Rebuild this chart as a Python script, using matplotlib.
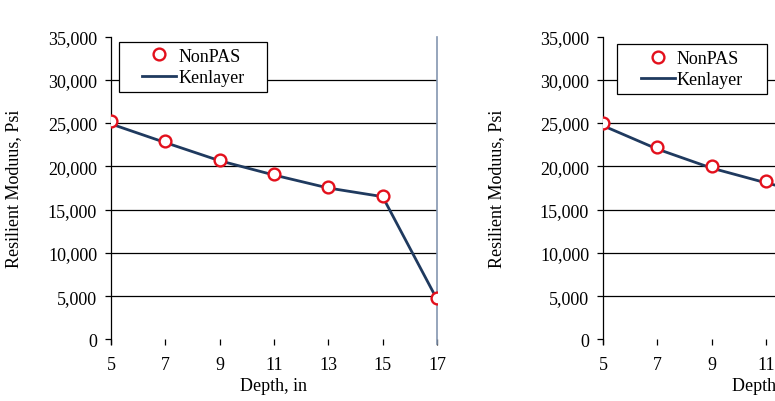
import matplotlib.pyplot as plt
from matplotlib.patches import Rectangle
from matplotlib.ticker import FuncFormatter

# Values (the right panel is cut off by the page edge).
depth_left = [5, 7, 9, 11, 13, 15, 17]
nonpas_left = [25250, 22900, 20750, 19100, 17600, 16550, 4750]
kenlayer_left = [24900, 22750, 20650, 19000, 17500, 16500, 4650]

depth_right = [5, 7, 9, 11, 13]
nonpas_right = [25000, 22200, 20000, 18300, 16700]
kenlayer_right = [24700, 22000, 19800, 18100, 16500]

x_ticks = [5, 7, 9, 11, 13, 15, 17]
y_ticks = [0, 5000, 10000, 15000, 20000, 25000, 30000, 35000]
grid_levels = [5000, 10000, 15000, 20000, 25000, 30000]

plt.rcParams['font.family'] = ['Liberation Serif', 'DejaVu Serif']
plt.rcParams['font.size'] = 13


# Draws one Excel-style panel into the given axes.
# legend_box is (x0, y0, x1, y1) in axes fractions, ylabel_x is where the y label sits.
def drawPanel(ax, depth, nonpas, kenlayer, legend_box, ylabel_x):

    # Horizontal gridlines, black like the original.
    for level in grid_levels:
        ax.axhline(level, color='black', linewidth=0.9, zorder=1)

    ax.plot(depth, kenlayer, color='#1f3a5f', linewidth=2.0, label='Kenlayer', zorder=2)
    ax.plot(depth, nonpas, linestyle='none', marker='o', markersize=8.5,
            markerfacecolor='white', markeredgecolor='#e3101c', markeredgewidth=1.7,
            label='NonPAS', zorder=3)

    ax.set_xlim(5, 17)
    ax.set_ylim(0, 35000)
    ax.set_xticks(x_ticks)
    ax.set_yticks(y_ticks)
    ax.yaxis.set_major_formatter(FuncFormatter(lambda v, p: f'{int(v):,}'))

    ax.spines['top'].set_visible(False)
    ax.spines['bottom'].set_visible(False)
    ax.spines['left'].set_color('black')
    ax.spines['left'].set_linewidth(0.9)
    ax.spines['left'].set_bounds(-500, 35000)
    ax.spines['right'].set_color('#8496b0')
    ax.spines['right'].set_linewidth(1.2)
    ax.spines['right'].set_bounds(-500, 35000)

    ax.tick_params(axis='y', direction='out', length=4, width=0.9, pad=6, colors='black')
    ax.tick_params(axis='x', direction='out', length=4, width=0.9, pad=8, colors='black')

    ax.set_xlabel('Depth, in', labelpad=3)
    ax.set_ylabel('Resilient Moduus, Psi')
    ax.yaxis.set_label_coords(ylabel_x, 0.5)

    # Legend box drawn by hand so it can be wider than the entries.
    x0, y0, x1, y1 = legend_box
    box = Rectangle((x0, y0), x1 - x0, y1 - y0, transform=ax.transAxes,
                    facecolor='white', edgecolor='black', linewidth=0.9, zorder=4)
    ax.add_patch(box)

    # Legend: marker first, then line.
    handles, labels = ax.get_legend_handles_labels()
    leg = ax.legend(handles[::-1], labels[::-1], loc='center',
                    bbox_to_anchor=((x0 + x1) / 2, (y0 + y1) / 2), frameon=False,
                    borderpad=0, handlelength=1.9, handletextpad=0.1,
                    labelspacing=0.25, borderaxespad=0)
    leg.set_zorder(5)


def main():
    fig = plt.figure(figsize=(7.75, 4.02), dpi=100)

    ax_left = fig.add_axes([0.1432, 0.153, 0.4206, 0.7537])
    ax_right = fig.add_axes([0.778, 0.153, 0.4206, 0.7537])

    drawPanel(ax_left, depth_left, nonpas_left, kenlayer_left,
              (0.025, 0.817, 0.48, 0.982), -0.272)
    drawPanel(ax_right, depth_right, nonpas_right, kenlayer_right,
              (0.043, 0.81, 0.503, 0.975), -0.30)

    fig.savefig('out.png', dpi=100)


if __name__ == '__main__':
    main()
